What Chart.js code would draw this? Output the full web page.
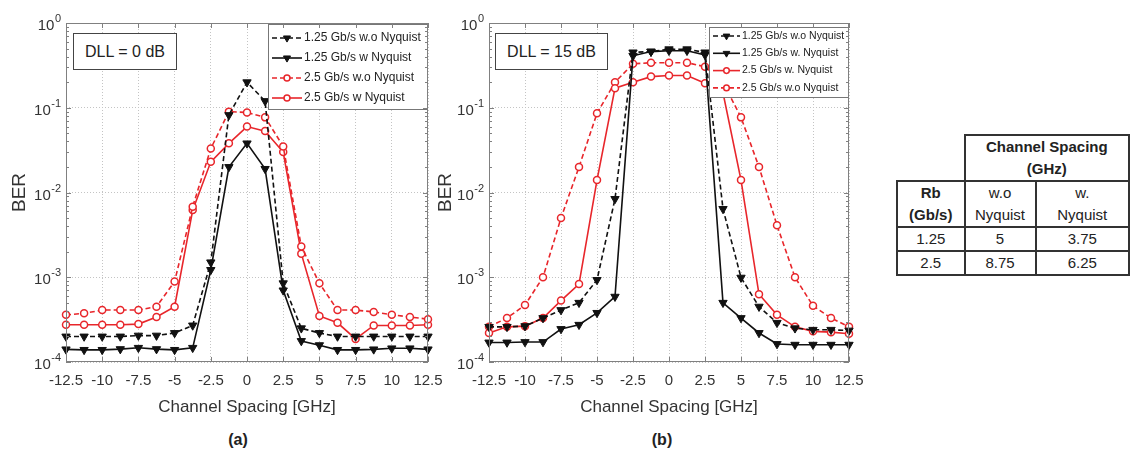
<!DOCTYPE html>
<html>
<head>
<meta charset="utf-8">
<script src="https://cdn.jsdelivr.net/npm/chart.js@4.4.1/dist/chart.umd.min.js"></script>
<style>
  html, body { margin: 0; padding: 0; background: #fff; }
  body { width: 1130px; height: 452px; position: relative; overflow: hidden;
         font-family: "Liberation Sans", Arial, sans-serif; color: #333; }
  canvas { position: absolute; top: 0; }
  #chartA { left: 0; }
  #chartB { left: 430px; }
  .dll { position: absolute; top: 33px; height: 35px; border: 1.5px solid #444; background: #fff;
         font-size: 16px; line-height: 35px; text-align: center; color: #222; }
  .cap { position: absolute; top: 431px; width: 40px; text-align: center; font-size: 16px; font-weight: bold; color: #222; }
  table { position: absolute; left: 896px; top: 134px; border-collapse: collapse; font-size: 15px; color: #222; table-layout: fixed; }
  td { border: 2px solid #333; text-align: center; vertical-align: middle; padding: 0; line-height: 22px; }
  td.b { font-weight: bold; }
  td.blank { border-top: none; border-left: none; }
</style>
</head>
<body>
<canvas id="chartA" width="452" height="420"></canvas>
<canvas id="chartB" width="450" height="420"></canvas>
<div class="dll" style="left:73px; width:102px;">DLL = 0 dB</div>
<div class="dll" style="left:495px; width:111px;">DLL = 15 dB</div>
<div class="cap" style="left:218px;">(a)</div>
<div class="cap" style="left:642px;">(b)</div>
<table>
  <colgroup><col style="width:70px"><col style="width:73px"><col style="width:98px"></colgroup>
  <tr style="height:44px"><td class="blank"></td><td class="b" colspan="2">Channel Spacing<br>(GHz)</td></tr>
  <tr style="height:44px"><td class="b">Rb<br>(Gb/s)</td><td>w.o<br>Nyquist</td><td>w.<br>Nyquist</td></tr>
  <tr style="height:21px"><td>1.25</td><td>5</td><td>3.75</td></tr>
  <tr style="height:23px"><td>2.5</td><td>8.75</td><td>6.25</td></tr>
</table>
<script>
const spacing = [-12.5, -11.25, -10, -8.75, -7.5, -6.25, -5, -3.75, -2.5, -1.25, 0,
  1.25, 2.5, 3.75, 5, 6.25, 7.5, 8.75, 10, 11.25, 12.5];
const xTicks = [-12.5, -10, -7.5, -5, -2.5, 0, 2.5, 5, 7.5, 10, 12.5];
const berDecades = [1e-4, 1e-3, 1e-2, 1e-1, 1];

// (a) DLL = 0 dB
const a125wo = [2.0e-4, 2.0e-4, 2.0e-4, 2.0e-4, 2.05e-4, 2.05e-4, 2.2e-4, 2.7e-4, 1.5e-3, 0.082, 0.2,
  0.12, 8.5e-4, 2.5e-4, 2.2e-4, 2.0e-4, 2.0e-4, 2.0e-4, 2.0e-4, 2.0e-4, 2.0e-4];
const a125w = [1.41e-4, 1.39e-4, 1.39e-4, 1.42e-4, 1.47e-4, 1.42e-4, 1.39e-4, 1.47e-4, 1.22e-3, 0.02, 0.038,
  0.019, 7e-4, 1.77e-4, 1.58e-4, 1.39e-4, 1.39e-4, 1.41e-4, 1.45e-4, 1.45e-4, 1.41e-4];
const a25wo = [3.6e-4, 3.75e-4, 4.1e-4, 4.1e-4, 4.1e-4, 4.5e-4, 8.9e-4, 6.8e-3, 0.033, 0.09, 0.088,
  0.077, 0.035, 2.3e-3, 8.5e-4, 4.1e-4, 4.1e-4, 3.9e-4, 3.6e-4, 3.4e-4, 3.2e-4];
const a25w = [2.75e-4, 2.75e-4, 2.75e-4, 2.75e-4, 2.8e-4, 3.4e-4, 4.5e-4, 6.2e-3, 0.023, 0.038, 0.06,
  0.053, 0.03, 1.9e-3, 3.5e-4, 2.9e-4, 1.87e-4, 2.7e-4, 2.7e-4, 2.7e-4, 2.75e-4];

// (b) DLL = 15 dB
const b125wo = [2.6e-4, 2.6e-4, 2.65e-4, 3.3e-4, 4.1e-4, 5e-4, 9.3e-4, 8.4e-3, 0.45, 0.46, 0.49,
  0.49, 0.45, 6.4e-3, 9.9e-4, 4.5e-4, 2.9e-4, 2.5e-4, 2.4e-4, 2.4e-4, 2.35e-4];
const b125w = [1.7e-4, 1.7e-4, 1.72e-4, 1.72e-4, 2.45e-4, 2.75e-4, 3.8e-4, 5.9e-4, 0.41, 0.46, 0.47,
  0.47, 0.42, 5e-4, 3.3e-4, 2.2e-4, 1.63e-4, 1.6e-4, 1.6e-4, 1.6e-4, 1.6e-4];
const b25w = [2.2e-4, 2.6e-4, 2.65e-4, 3.3e-4, 5.3e-4, 8.3e-4, 0.014, 0.17, 0.2, 0.233, 0.24,
  0.24, 0.195, 0.15, 0.014, 6.3e-4, 3.6e-4, 2.6e-4, 2.3e-4, 2.25e-4, 2.15e-4];
const b25wo = [2.6e-4, 3.3e-4, 4.7e-4, 1.0e-3, 5e-3, 0.02, 0.086, 0.2, 0.33, 0.34, 0.34,
  0.34, 0.305, 0.2, 0.077, 0.02, 4.1e-3, 1.0e-3, 4.6e-4, 3.3e-4, 2.6e-4];

const FONT = '"Liberation Sans", Arial, sans-serif';
const BLACK = '#111';
const RED = '#e8262b';
const GRID = '#c4c4c4';
const AXIS = '#808080';

const blackDash = { borderColor: BLACK, borderWidth: 1.6, borderDash: [5, 3], pointStyle: 'triangle', pointRotation: 180,
  pointRadius: 4.8, pointBackgroundColor: BLACK, pointBorderColor: BLACK, pointBorderWidth: 1 };
const blackSolid = { ...blackDash, borderDash: [] };
const redDash = { borderColor: RED, borderWidth: 1.6, borderDash: [5, 3], pointStyle: 'circle',
  pointRadius: 3.5, pointBackgroundColor: '#fff', pointBorderColor: RED, pointBorderWidth: 1.5 };
const redSolid = { ...redDash, borderDash: [] };

const toPoints = (vals) => spacing.map((x, i) => ({ x, y: vals[i] }));

const series = (label, vals, style) => ({ label, data: toPoints(vals), ...style, tension: 0, clip: 8 });

const boxLegend = {
  id: 'boxLegend',
  afterDatasetsDraw(chart, args, opts) {
    const { ctx, chartArea } = chart;
    const x0 = chartArea.right - opts.width - 1;
    const y0 = chartArea.top + opts.top;
    ctx.save();
    ctx.fillStyle = '#fff';
    ctx.fillRect(x0, y0, opts.width, opts.height);
    ctx.strokeStyle = '#777';
    ctx.lineWidth = 1;
    ctx.strokeRect(x0 + 0.5, y0 + 0.5, opts.width, opts.height);
    chart.data.datasets.forEach((ds, row) => {
      const y = y0 + opts.firstRow + row * opts.rowGap;
      const xa = x0 + 4;
      const xb = xa + opts.sample;
      ctx.strokeStyle = ds.borderColor;
      ctx.lineWidth = ds.borderWidth;
      ctx.setLineDash(ds.borderDash);
      ctx.beginPath();
      ctx.moveTo(xa, y);
      ctx.lineTo(xb, y);
      ctx.stroke();
      ctx.setLineDash([]);
      ctx.fillStyle = ds.pointBackgroundColor;
      ctx.strokeStyle = ds.pointBorderColor;
      ctx.lineWidth = ds.pointBorderWidth;
      Chart.helpers.drawPoint(ctx, { pointStyle: ds.pointStyle, rotation: ds.pointRotation || 0,
        radius: ds.pointRadius * opts.markerScale, borderWidth: ds.pointBorderWidth }, (xa + xb) / 2, y);
      ctx.fillStyle = '#222';
      ctx.font = opts.fontSize + 'px ' + FONT;
      ctx.textBaseline = 'middle';
      ctx.textAlign = 'left';
      ctx.fillText(ds.label, xb + 2, y);
    });
    ctx.restore();
  }
};

const matlabAxes = {
  id: 'matlabAxes',
  afterDraw(chart) {
    const { ctx, chartArea: { left, right, top, bottom }, scales: { x, y } } = chart;
    ctx.save();
    ctx.strokeStyle = AXIS;
    ctx.lineWidth = 1;
    ctx.beginPath();
    xTicks.forEach((v) => {
      const px = Math.round(x.getPixelForValue(v)) + 0.5;
      ctx.moveTo(px, bottom); ctx.lineTo(px, bottom - 5);
      ctx.moveTo(px, top); ctx.lineTo(px, top + 5);
    });
    berDecades.slice(0, -1).forEach((d) => {
      [1, 2, 3, 4, 5, 6, 7, 8, 9].forEach((m) => {
        const py = Math.round(y.getPixelForValue(d * m)) + 0.5;
        const len = m === 1 ? 5 : 3;
        ctx.moveTo(left, py); ctx.lineTo(left + len, py);
        ctx.moveTo(right, py); ctx.lineTo(right - len, py);
      });
    });
    ctx.stroke();
    ctx.strokeRect(Math.round(left) + 0.5, Math.round(top) + 0.5, Math.round(right - left) - 1, Math.round(bottom - top) - 1);

    // decade labels 10^n
    berDecades.forEach((d) => {
      const py = y.getPixelForValue(d);
      const exp = String(Math.round(Math.log10(d)));
      ctx.fillStyle = '#333';
      ctx.textBaseline = 'middle';
      ctx.font = '11px ' + FONT;
      const ew = ctx.measureText(exp).width;
      const ex = left - 5 - ew;
      ctx.textAlign = 'left';
      ctx.fillText(exp, ex, py - 4);
      ctx.font = '15px ' + FONT;
      ctx.textAlign = 'right';
      ctx.fillText('10', ex - 0.5, py + 3);
    });
    ctx.restore();
  }
};

const buildChart = (id, datasets, cfg) => new Chart(document.getElementById(id), {
  type: 'line',
  data: { datasets },
  plugins: [boxLegend, matlabAxes],
  options: {
    responsive: false,
    animation: false,
    layout: { padding: { top: 23, right: cfg.padRight, left: 0, bottom: 0 } },
    plugins: {
      legend: { display: false },
      tooltip: { enabled: false },
      boxLegend: cfg.legend
    },
    scales: {
      x: {
        type: 'linear',
        min: -12.5,
        max: 12.5,
        afterBuildTicks: (s) => { s.ticks = xTicks.map((v) => ({ value: v })); },
        afterFit: (s) => { s.height = 58; s.paddingLeft = 0; s.paddingRight = 0; },
        ticks: { padding: 10, maxRotation: 0, autoSkip: false, color: '#333',
          font: { size: 15, family: FONT }, callback: (v) => String(v) },
        grid: { color: GRID, drawTicks: false },
        border: { display: false, dash: [1, 2] },
        title: { display: true, text: 'Channel Spacing [GHz]', color: '#333',
          font: { size: 17, family: FONT }, padding: { top: 0, bottom: 2 } }
      },
      y: {
        type: 'logarithmic',
        min: 1e-4,
        max: 1,
        afterBuildTicks: (s) => { s.ticks = berDecades.map((v) => ({ value: v })); },
        afterFit: (s) => { s.width = cfg.yWidth; s.paddingTop = 0; s.paddingBottom = 0; },
        ticks: { display: false },
        grid: { color: GRID, drawTicks: false },
        border: { display: false, dash: [1, 2] },
        title: { display: true, text: 'BER', color: '#333',
          font: { size: 19, family: FONT }, padding: { top: cfg.berPad, bottom: 0 } }
      }
    }
  }
});

buildChart('chartA', [
  series('1.25 Gb/s w.o Nyquist', a125wo, blackDash),
  series('1.25 Gb/s w Nyquist', a125w, blackSolid),
  series('2.5 Gb/s w.o Nyquist', a25wo, redDash),
  series('2.5 Gb/s w Nyquist', a25w, redSolid)
], {
  padRight: 24, yWidth: 66, berPad: 8,
  legend: { width: 159, height: 85, top: 1, firstRow: 14, rowGap: 20, sample: 30, fontSize: 12, markerScale: 0.85 }
});

buildChart('chartB', [
  series('1.25 Gb/s w.o Nyquist', b125wo, blackDash),
  series('1.25 Gb/s w. Nyquist', b125w, blackSolid),
  series('2.5 Gb/s w. Nyquist', b25w, redSolid),
  series('2.5 Gb/s w.o Nyquist', b25wo, redDash)
], {
  padRight: 31, yWidth: 59, berPad: 4,
  legend: { width: 139, height: 70, top: 4, firstRow: 9, rowGap: 17.3, sample: 27, fontSize: 10.5, markerScale: 0.8 }
});
</script>
</body>
</html>
